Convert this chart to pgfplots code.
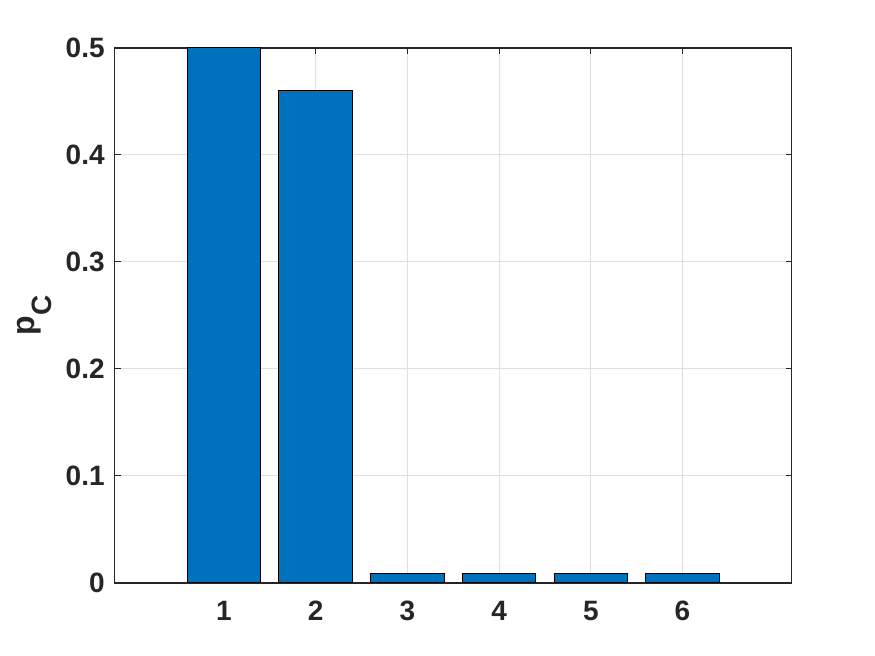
\documentclass[border=0pt]{standalone}
\usepackage{fontspec}
\setmainfont{Liberation Sans}
\usepackage{pgfplots}
\pgfplotsset{compat=1.18}
\definecolor{barblue}{HTML}{0072BD}
\definecolor{axgray}{HTML}{262626}
\definecolor{gridgray}{HTML}{DFDFDF}

\begin{document}
\begin{tikzpicture}
\path[use as bounding box] (0,0) rectangle (437.5pt,328pt);
\begin{axis}[
  at={(57.35pt,36.5pt)}, anchor=south west,
  scale only axis,
  width=338.5pt, height=267.5pt,
  xmin=-0.19, xmax=7.19,
  ymin=0, ymax=0.5,
  xtick={1,2,3,4,5,6},
  ytick={0,0.1,0.2,0.3,0.4,0.5},
  yticklabel style={/pgf/number format/fixed, /pgf/number format/precision=1},
  /pgf/number format/assume math mode=true,
  tick label style={font=\fontsize{14pt}{16pt}\bfseries, text=axgray},
  xticklabel style={yshift=-5.5pt},
  yticklabel style={xshift=-1.5pt},
  tick align=inside,
  major tick length=3pt,
  tick style={axgray, line width=0.5pt},
  axis line style={axgray, line width=0.6pt},
  xmajorgrids, ymajorgrids,
  grid style={gridgray, line width=0.5pt},
  ylabel={p\raisebox{-8.5pt}{\fontsize{14pt}{16pt}\selectfont C}},
  ylabel style={font=\fontsize{16pt}{18pt}\bfseries, text=axgray,
    at={(axis description cs:-0.1183,0.5)}, anchor=base, inner sep=0pt},
]
\addplot[ybar, bar width=0.8, fill=barblue, draw=black, line width=0.5pt] coordinates {
  (1,0.5) (2,0.46) (3,0.009) (4,0.009) (5,0.009) (6,0.009)
};
\end{axis}
\end{tikzpicture}
\end{document}
